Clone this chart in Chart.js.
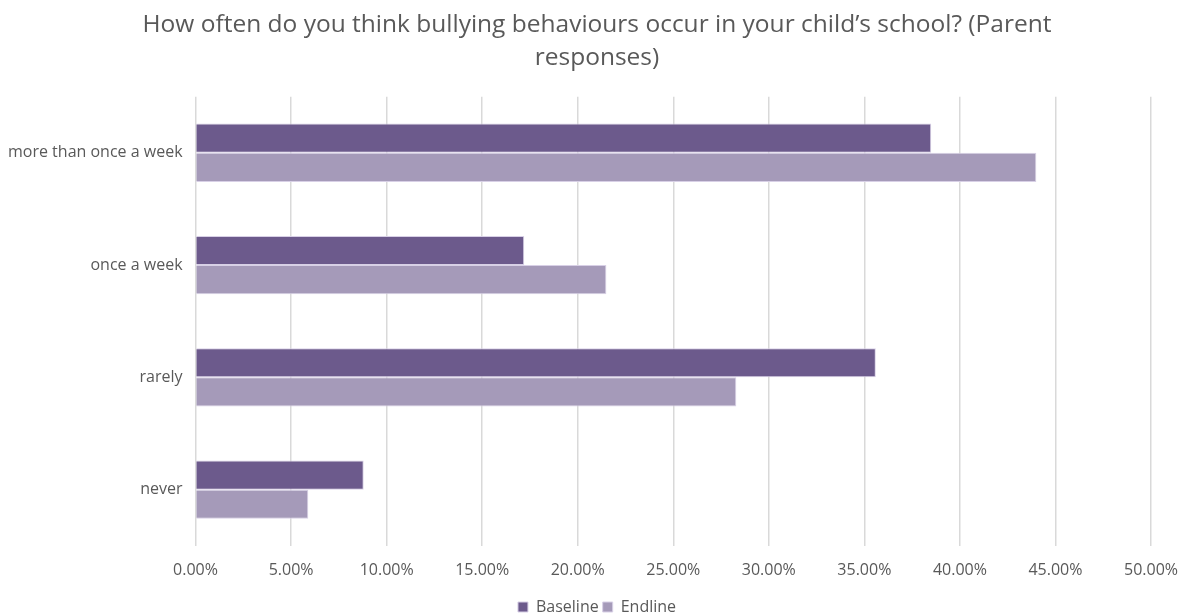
<!DOCTYPE html>
<html lang="en">
  <head>
    <meta charset="UTF-8" />
    <script src="https://cdn.jsdelivr.net/npm/chart.js"></script>
    <title>Bullying frequency - parent responses</title>
    <style>
      html, body { margin: 0; padding: 0; background: #fff; }
      #wrap { width: 1193px; height: 616px; }
    </style>
  </head>
  <body>
    <div id="wrap"><canvas id="bullyChart"></canvas></div>
    <script>
      var categories = ['more than once a week', 'once a week', 'rarely', 'never'];
      var baseline = [38.5, 17.2, 35.6, 8.8];
      var endline = [44.0, 21.5, 28.3, 5.9];
      var seriesNames = ['Baseline', 'Endline'];
      var titleLines = ['How often do you think bullying behaviours occur in your child\u2019s school? (Parent', 'responses)'];

      var textGrey = '#595959';
      var font = "'Open Sans', sans-serif";

      var ctx = document.getElementById('bullyChart').getContext('2d');
      var bullyChart = new Chart(ctx, {
        type: 'bar',
        data: {
          labels: categories,
          datasets: [{
            label: seriesNames[0],
            data: baseline,
            backgroundColor: '#6c5a8c',
            borderColor: '#d8d0e6',
            borderWidth: 1,
            categoryPercentage: 0.52,
            barPercentage: 1
          }, {
            label: seriesNames[1],
            data: endline,
            backgroundColor: '#a59ab9',
            borderColor: '#d8d0e6',
            borderWidth: 1,
            categoryPercentage: 0.52,
            barPercentage: 1
          }]
        },
        options: {
          indexAxis: 'y',
          responsive: true,
          maintainAspectRatio: false,
          animation: false,
          layout: { padding: { left: 3, right: 2, top: 8, bottom: -9 } },
          plugins: {
            title: {
              display: true,
              text: titleLines,
              color: textGrey,
              font: { family: font, size: 24.5, weight: 'normal', lineHeight: 1.36 },
              padding: { top: 0, bottom: 22 }
            },
            legend: {
              position: 'bottom',
              labels: {
                color: textGrey,
                font: { family: font, size: 16 },
                boxWidth: 10,
                boxHeight: 10,
                padding: 4
              }
            },
            tooltip: { enabled: false }
          },
          scales: {
            x: {
              min: 0,
              max: 50,
              border: { display: false },
              grid: { color: '#d9d9d9', lineWidth: 1.5, drawTicks: false },
              ticks: {
                stepSize: 5,
                padding: 15,
                color: textGrey,
                font: { family: font, size: 16 },
                callback: function (v) { return v.toFixed(2) + '%'; }
              }
            },
            y: {
              border: { display: false },
              grid: { display: false },
              ticks: {
                padding: 5,
                color: textGrey,
                font: { family: font, size: 16 }
              }
            }
          }
        }
      });
    </script>
  </body>
</html>
